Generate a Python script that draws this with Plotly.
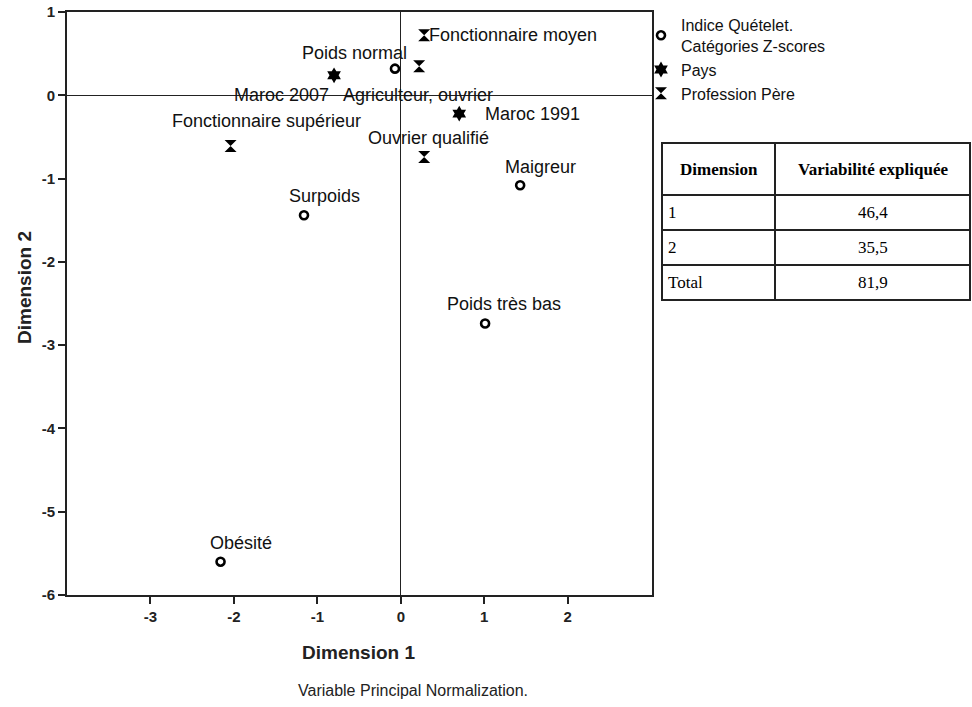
import plotly.graph_objects as go

W, H = 972, 707

# ---------------- data ----------------
quetelet_labels = ["Poids normal", "Maigreur", "Surpoids", "Poids très bas", "Obésité"]
quetelet_dim1 = [-0.07, 1.43, -1.16, 1.01, -2.16]
quetelet_dim2 = [0.32, -1.08, -1.44, -2.74, -5.60]

pays_labels = ["Maroc 2007", "Maroc 1991"]
pays_dim1 = [-0.80, 0.70]
pays_dim2 = [0.24, -0.22]

prof_labels = ["Fonctionnaire moyen", "Agriculteur, ouvrier", "Fonctionnaire supérieur", "Ouvrier qualifié"]
prof_dim1 = [0.28, 0.22, -2.04, 0.28]
prof_dim2 = [0.72, 0.35, -0.61, -0.74]

x_ticks = [-3, -2, -1, 0, 1, 2]
x_tick_labels = ["-3", "-2", "-1", "0", "1", "2"]
y_ticks = [1, 0, -1, -2, -3, -4, -5, -6]
y_tick_labels = ["1", "0", "-1", "-2", "-3", "-4", "-5", "-6"]

table_header = ["Dimension", "Variabilité expliquée"]
table_dims = ["1", "2", "Total"]
table_values = ["46,4", "35,5", "81,9"]

# ---------------- styles ----------------
SANS = "Liberation Sans, Arial, sans-serif"
SERIF = "Liberation Serif, Times New Roman, serif"
LABEL_SIZE = 18

# label offsets in pixels: (xshift, yshift, xanchor)
label_offsets = {
    "Poids normal": (-40, 16, "center"),
    "Maigreur": (20, 18, "center"),
    "Surpoids": (20, 19, "center"),
    "Poids très bas": (19, 19, "center"),
    "Obésité": (20, 19, "center"),
    "Maroc 2007": (-53, -20, "center"),
    "Maroc 1991": (24, 0, "left"),
    "Fonctionnaire moyen": (3, 0, "left"),
    "Agriculteur, ouvrier": (-78, -29, "left"),
    "Fonctionnaire supérieur": (36, 25, "center"),
    "Ouvrier qualifié": (4, 19, "center"),
}


def px(xp):
    return xp / W


def py(yp):
    return 1 - yp / H


fig = go.Figure()

fig.add_trace(go.Scatter(
    x=quetelet_dim1, y=quetelet_dim2, mode="markers",
    name="Indice Quételet.<br>Catégories Z-scores",
    marker=dict(symbol="circle-open", size=8, color="black", line=dict(width=2.6, color="black")),
    hoverinfo="skip", legendgroup="a",
))
fig.add_trace(go.Scatter(
    x=pays_dim1, y=pays_dim2, mode="markers", name="Pays",
    marker=dict(symbol="hexagram", size=12, color="black", line=dict(width=0)),
    hoverinfo="skip", legendgroup="b",
))
fig.add_trace(go.Scatter(
    x=prof_dim1, y=prof_dim2, mode="markers", name="Profession Père",
    marker=dict(symbol="hourglass", size=12, color="black", line=dict(width=0)),
    hoverinfo="skip", legendgroup="c",
))

annotations = []
for labels, xs, ys in [(quetelet_labels, quetelet_dim1, quetelet_dim2),
                       (pays_labels, pays_dim1, pays_dim2),
                       (prof_labels, prof_dim1, prof_dim2)]:
    for lab, xv, yv in zip(labels, xs, ys):
        dx, dy, anchor = label_offsets[lab]
        annotations.append(dict(
            x=xv, y=yv, xref="x", yref="y", text=lab, showarrow=False,
            xshift=dx, yshift=dy, xanchor=anchor, yanchor="middle",
            font=dict(family=SANS, size=LABEL_SIZE, color="#111"),
        ))

# axis titles and footnote
annotations.append(dict(x=px(24), y=py(288), xref="paper", yref="paper", text="Dimension 2",
                        textangle=-90, showarrow=False, xanchor="center", yanchor="middle",
                        font=dict(family=SANS, size=19, color="#222", weight="bold")))
annotations.append(dict(x=px(358), y=py(652), xref="paper", yref="paper", text="Dimension 1",
                        showarrow=False, xanchor="center", yanchor="middle",
                        font=dict(family=SANS, size=19, color="#222", weight="bold")))
annotations.append(dict(x=px(296), y=py(690), xref="paper", yref="paper",
                        text="Variable Principal Normalization.",
                        showarrow=False, xanchor="left", yanchor="middle",
                        font=dict(family=SANS, size=16, color="#222")))

# table
tx0, tx1, tcol = 662, 970, 775
row_edges = [143, 195, 230, 265, 300]
shapes = []
shapes.append(dict(type="rect", xref="paper", yref="paper", x0=px(tx0), x1=px(tx1),
                   y0=py(row_edges[-1]), y1=py(row_edges[0]), line=dict(color="#222", width=2)))
shapes.append(dict(type="line", xref="paper", yref="paper", x0=px(tcol), x1=px(tcol),
                   y0=py(row_edges[-1]), y1=py(row_edges[0]), line=dict(color="#222", width=2)))
for ry in row_edges[1:-1]:
    shapes.append(dict(type="line", xref="paper", yref="paper", x0=px(tx0), x1=px(tx1),
                       y0=py(ry), y1=py(ry), line=dict(color="#222", width=2)))

hy = (row_edges[0] + row_edges[1]) / 2
annotations.append(dict(x=px((tx0 + tcol) / 2), y=py(hy), xref="paper", yref="paper",
                        text=table_header[0], showarrow=False, xanchor="center", yanchor="middle",
                        font=dict(family=SERIF, size=17, color="black", weight="bold")))
annotations.append(dict(x=px((tcol + tx1) / 2), y=py(hy), xref="paper", yref="paper",
                        text=table_header[1], showarrow=False, xanchor="center", yanchor="middle",
                        font=dict(family=SERIF, size=17, color="black", weight="bold")))
for i, (d, v) in enumerate(zip(table_dims, table_values)):
    cy = (row_edges[i + 1] + row_edges[i + 2]) / 2
    annotations.append(dict(x=px(tx0 + 4), y=py(cy), xref="paper", yref="paper", text=d,
                            showarrow=False, xanchor="left", yanchor="middle",
                            font=dict(family=SERIF, size=17, color="black")))
    annotations.append(dict(x=px((tcol + tx1) / 2), y=py(cy), xref="paper", yref="paper", text=v,
                            showarrow=False, xanchor="center", yanchor="middle",
                            font=dict(family=SERIF, size=17, color="black")))

axis_common = dict(
    ticks="outside", ticklen=7, tickwidth=2, tickcolor="#222",
    showline=True, linewidth=2, linecolor="#222", mirror=True,
    showgrid=False, zeroline=True, zerolinecolor="#222", zerolinewidth=1,
    automargin=False, ticklabeloverflow="allow",
    tickfont=dict(family=SANS, size=15, color="#222", weight="bold"),
)

fig.update_layout(
    width=W, height=H,
    margin=dict(l=0, r=0, t=0, b=0, pad=0, autoexpand=False),
    paper_bgcolor="white", plot_bgcolor="white",
    xaxis=dict(domain=[px(67), px(652)], range=[-4.0, 3.01], tickvals=x_ticks,
               ticktext=x_tick_labels, **axis_common),
    yaxis=dict(domain=[py(595), py(12)], range=[-6, 1], tickvals=y_ticks,
               ticktext=y_tick_labels, **axis_common),
    showlegend=True,
    legend=dict(x=px(641), y=py(8), xanchor="left", yanchor="top",
                font=dict(family=SANS, size=16, color="#111"),
                bgcolor="rgba(0,0,0,0)", tracegroupgap=0),
    annotations=annotations,
    shapes=shapes,
)

fig.write_html("out.html", config={"displayModeBar": False},
               post_script="document.body.style.margin='0';")
